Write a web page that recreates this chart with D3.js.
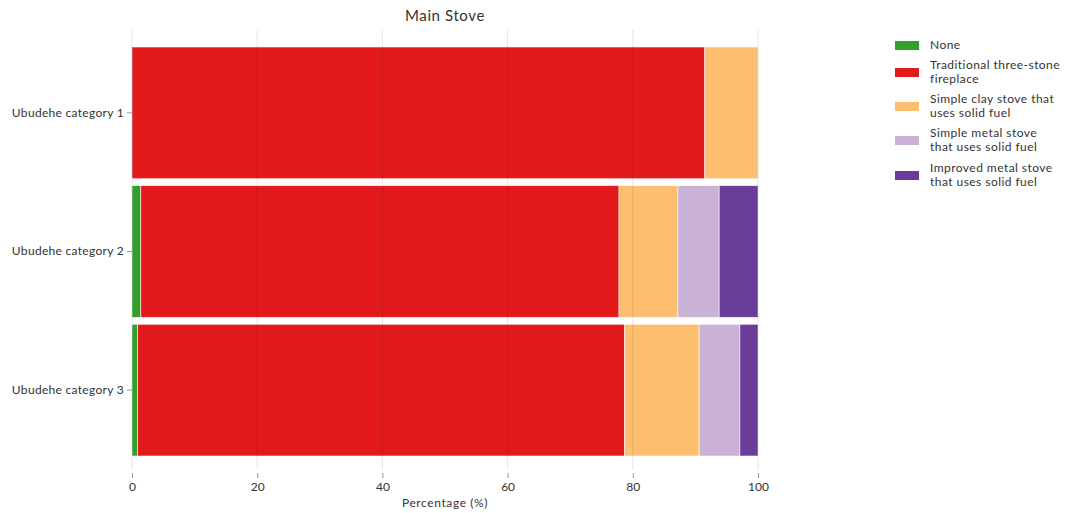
<!DOCTYPE html>
<html><head><meta charset="utf-8">
<script src="https://cdn.jsdelivr.net/npm/d3@7"></script>
<style>
body{margin:0;background:#fff;}
text{font-family:Lato,"Open Sans",sans-serif;fill:#333;}
</style></head>
<body><svg id="c" width="1065" height="513"></svg>
<script>
const categories = ["Ubudehe category 1","Ubudehe category 2","Ubudehe category 3"];
const seriesNames = ["None","Traditional three-stone fireplace","Simple clay stove that uses solid fuel","Simple metal stove that uses solid fuel","Improved metal stove that uses solid fuel"];
const legendLines = [["None"],["Traditional three-stone","fireplace"],["Simple clay stove that","uses solid fuel"],["Simple metal stove","that uses solid fuel"],["Improved metal stove","that uses solid fuel"]];
const noneVals = [0, 1.4, 0.9];
const traditionalVals = [91.5, 76.4, 77.8];
const clayVals = [8.5, 9.4, 11.9];
const simpleMetalVals = [0, 6.6, 6.5];
const improvedMetalVals = [0, 6.2, 2.9];
const colors = ["#33a02c","#e31a1c","#fdbf6f","#cab2d6","#6a3d9a"];
const xTicks = [0,20,40,60,80,100];

const seriesVals = [noneVals, traditionalVals, clayVals, simpleMetalVals, improvedMetalVals];
const rows = categories.map((c,i)=>{const r={cat:c}; seriesNames.forEach((s,j)=>r[s]=seriesVals[j][i]); return r;});
const stack = d3.stack().keys(seriesNames)(rows);

const svg = d3.select("#c");
const m = {l:132, r:758, t:47, b:456};
const x = d3.scaleLinear().domain([0,100]).range([m.l, m.r]);
const y = d3.scaleBand().domain(categories).range([m.t, m.b]).paddingInner(0.05).paddingOuter(0.0);

svg.append("text").attr("x",(m.l+m.r)/2).attr("y",21).attr("text-anchor","middle").style("font-size","15px").style("letter-spacing","0.6px").text("Main Stove");

const g = svg.append("g");
stack.forEach((s,j)=>{
  g.selectAll(null).data(s).enter().append("rect")
   .attr("x",d=>x(d[0])).attr("width",d=>Math.max(0,x(d[1])-x(d[0])))
   .attr("y",d=>y(d.data.cat)).attr("height",y.bandwidth())
   .attr("fill",colors[j]).attr("stroke","#fff").attr("stroke-width",0.8).attr("stroke-opacity",0.7);
});

// grid
svg.append("g").selectAll("line").data(xTicks).enter().append("line")
  .attr("x1",d=>x(d)).attr("x2",d=>x(d)).attr("y1",30).attr("y2",470)
  .attr("stroke","#000").attr("stroke-opacity",0.1).attr("stroke-width",1);

// x axis
const xa = svg.append("g").attr("transform",`translate(0,473)`)
  .call(d3.axisBottom(x).tickValues(xTicks).tickSize(5).tickPadding(4));
xa.select(".domain").remove();
xa.selectAll("line").attr("stroke","#999");
xa.selectAll("text").style("font-size","12px").attr("fill","#333");
svg.append("text").attr("x",(m.l+m.r)/2).attr("y",507).attr("text-anchor","middle").style("font-size","12px").style("letter-spacing","0.6px").text("Percentage (%)");

// y axis
const ya = svg.append("g").attr("transform",`translate(${m.l},0)`)
  .call(d3.axisLeft(y).tickSize(5).tickPadding(3));
ya.select(".domain").remove();
ya.selectAll("line").attr("stroke","#999");
ya.selectAll("text").style("font-size","12px").style("letter-spacing","0.3px").attr("fill","#333");

// legend
const lg = svg.append("g");
const swY = [45,72,106,140,175];
legendLines.forEach((lines,i)=>{
  lg.append("rect").attr("x",895).attr("y",swY[i]-4).attr("width",24).attr("height",9).attr("fill",colors[i]);
  const startY = lines.length===1 ? swY[i] : swY[i]-7;
  lines.forEach((t,k)=>{
    lg.append("text").attr("x",930).attr("y",startY+k*14).attr("dy","0.35em").style("font-size","12px").style("letter-spacing","0.45px").text(t);
  });
});
</script></body></html>
